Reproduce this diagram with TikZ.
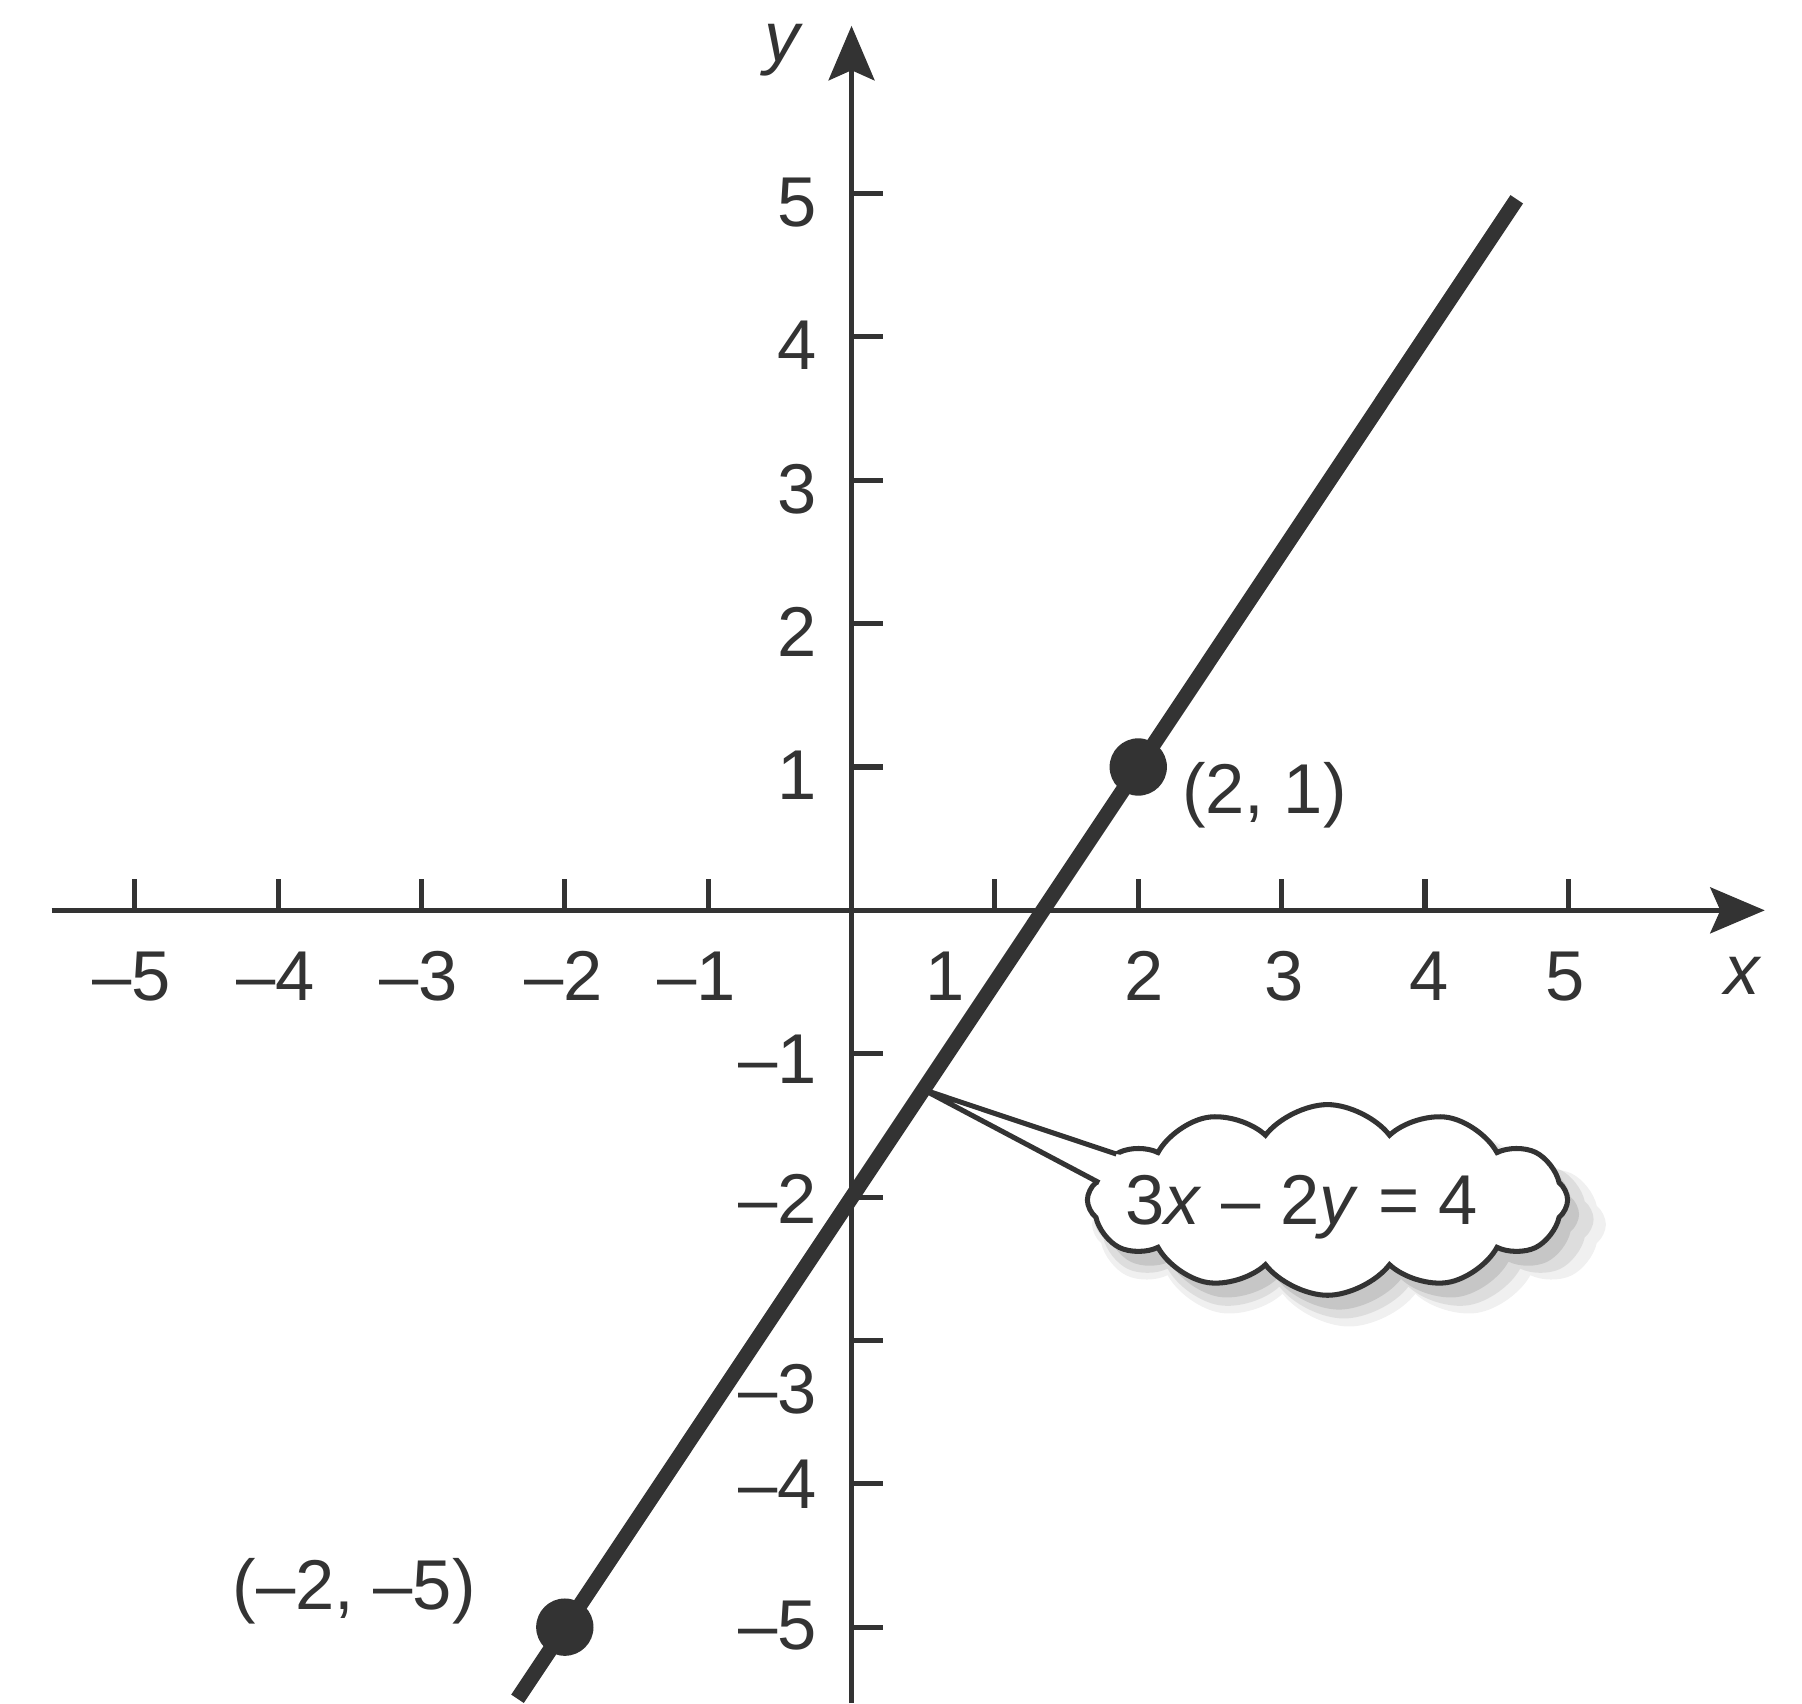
\documentclass[tikz,border=0pt]{standalone}
\usepackage{fontspec}
\setmainfont{Liberation Sans}
\usepackage{tikz}
\usetikzlibrary{positioning, arrows.meta, shapes.symbols, shadows, calc}

\definecolor{ink}{HTML}{333333}

\tikzset{
  axisline/.style={ink, line width=1pt, -{Stealth[length=0.38cm, width=0.32cm, inset=0.07cm]}},
  tickline/.style={ink, line width=1pt},
  ticklabel/.style={ink, font=\fontsize{14}{17}\selectfont, inner sep=1pt},
  graphline/.style={ink, line width=3pt},
  dotpt/.style={circle, fill=ink, inner sep=0pt, minimum size=0.4cm},
  eqcloud/.style={cloud, draw=ink, line width=1pt, fill=white, cloud puffs=12,
    cloud puff arc=105, cloud ignores aspect, minimum width=3.35cm, minimum height=1.33cm,
    inner sep=0pt,
    drop shadow={shadow xshift=0.14cm, shadow yshift=-0.16cm, shadow scale=1.07, fill=black, opacity=0.06},
    drop shadow={shadow xshift=0.11cm, shadow yshift=-0.13cm, shadow scale=1.04, fill=black, opacity=0.08},
    drop shadow={shadow xshift=0.08cm, shadow yshift=-0.10cm, fill=black, opacity=0.10}}
}

\begin{document}
\begin{tikzpicture}
    \useasboundingbox (-5.94,-5.53) rectangle (6.63,6.35);

    % Assi
    \draw[axisline] (-5.58,0) -- (6.37,0); % asse x
    \draw[axisline] (0,-5.53) -- (0,6.17); % asse y
    \node[ticklabel] (xname) at (6.22,-0.46) {\textit{x}};
    \node[ticklabel] (yname) at (-0.47,6.0) {\textit{y}};

    % Tacche
    \foreach \t in {-5,-4,-3,-2,-1,1,2,3,4,5} {
        \draw[tickline] (\t,0) -- ++(0,0.22);
        \draw[tickline] (0,\t) -- ++(0.22,0);
    }

    % Etichette asse x
    \foreach \t/\px in {5/-5.02, 4/-4.02, 3/-3.02, 2/-2.01, 1/-1.08}
        \node[ticklabel] (xm\t) at (\px,-0.46) {–\t};
    \foreach \t/\px in {1/0.65, 2/2.04, 3/3.02, 4/4.03, 5/4.98}
        \node[ticklabel] (xp\t) at (\px,-0.46) {\t};

    % Etichette asse y
    \foreach \t in {1,...,5}
        \node[ticklabel, anchor=east] (yp\t) at (-0.2,\t-0.06) {\t};
    \foreach \t/\py in {1/-1.04, 2/-2.01, 3/-3.34, 4/-4.0, 5/-4.99}
        \node[ticklabel, anchor=east] (ym\t) at (-0.2,\py) {–\t};

    % Retta 3x - 2y = 4
    \coordinate (lo) at (-2.33,-5.50);
    \coordinate (hi) at (4.64,4.96);
    \draw[graphline] (lo) -- (hi);

    % Punti
    \node[dotpt] (P) at (2,1) {};
    \node[dotpt] (Q) at (-2,-5) {};
    \node[ticklabel] (Plab) at (2.88,0.80) {(2, 1)};
    \node[ticklabel] (Qlab) at (-3.47,-4.75) {(–2, –5)};

    % Nuvoletta
    \coordinate (tip) at (0.5,-1.25);
    \node[eqcloud] (eq) at (3.32,-2.02) {};
    \coordinate (pa) at ($(eq.west)+(0.22,0.32)$);
    \coordinate (pb) at ($(eq.west)+(0.10,0.12)$);
    \fill[white] (tip) -- (pa) -- ($(pa)+(0.1,-0.02)$) -- ($(pb)+(0.1,0)$) -- (pb) -- cycle;
    \draw[ink, line width=1pt] (pa) -- (tip) -- (pb);
    \node[ticklabel] (eqtxt) at (3.14,-2.07) {3\textit{x} – 2\textit{y} = 4};

\end{tikzpicture}
\end{document}
